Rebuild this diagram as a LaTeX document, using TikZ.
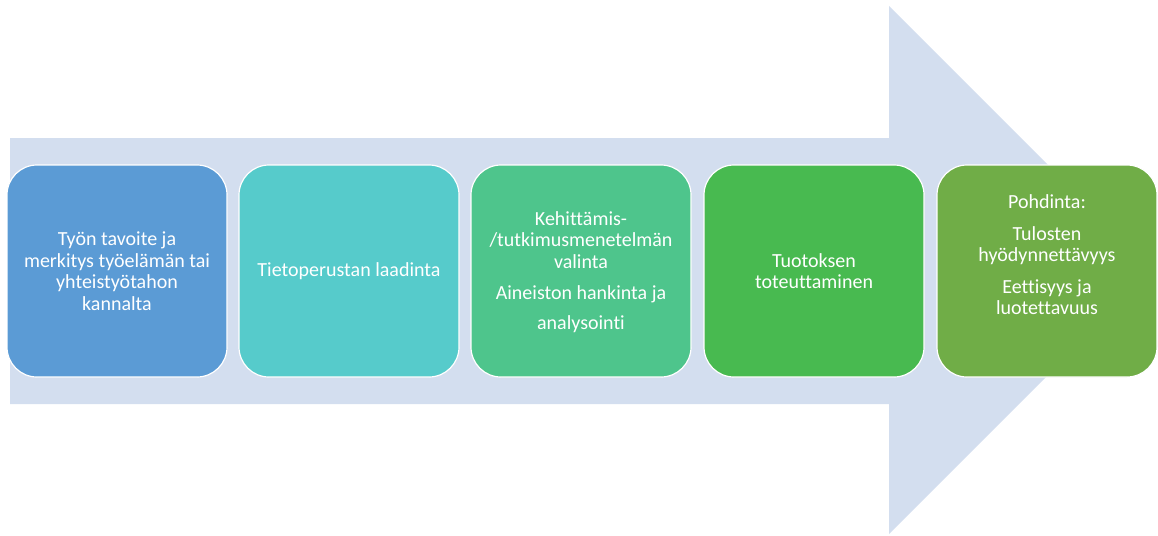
\documentclass[tikz,border=0pt]{standalone}
\usepackage{fontspec}
\setmainfont{Carlito}[Ligatures={NoCommon}]
\definecolor{arrowc}{HTML}{D3DEEF}
\definecolor{cA}{HTML}{5B9BD5}
\definecolor{cB}{HTML}{56CBCB}
\definecolor{cC}{HTML}{4EC58C}
\definecolor{cD}{HTML}{48BA50}
\definecolor{cE}{HTML}{70AD47}
\begin{document}
\begin{tikzpicture}[x=1pt,y=-1pt,
  stepbox/.style={draw=white, line width=1.2pt, rounded corners=30pt, minimum width=220pt, minimum height=212pt, inner sep=0pt},
  lbl/.style={text=white, align=center, font=\fontsize{20}{21.5}\selectfont, inner sep=0pt}]
\useasboundingbox (0,0) rectangle (1158,535);
\fill[arrowc] (10,138) -- (889,138) -- (889,6) -- (1153,270) -- (889,534) -- (889,404) -- (10,404) -- cycle;
\node[stepbox, fill=cA] (b1) at (117,271) {};
\node[stepbox, fill=cB] (b2) at (349,271) {};
\node[stepbox, fill=cC] (b3) at (581,271) {};
\node[stepbox, fill=cD] (b4) at (814,271) {};
\node[stepbox, fill=cE] (b5) at (1047,271) {};
\node[lbl] (t1) at (b1.center) {Työn tavoite ja\\merkitys työelämän tai\\yhteistyötahon\\kannalta};
\node[lbl] (t2) at (b2.center) {Tietoperustan laadinta};
\node[lbl] (t3) at ([yshift=-1pt]b3.center) {Kehittämis-\\/tutkimusmenetelmän\\valinta\\[10pt]Aineiston hankinta ja\\[8pt]analysointi};
\node[lbl] (t4) at (b4.center) {Tuotoksen\\toteuttaminen};
\node[lbl] (t5) at ([yshift=16pt]b5.center) {Pohdinta:\\[10pt]Tulosten\\hyödynnettävyys\\[10pt]Eettisyys ja\\luotettavuus};
\end{tikzpicture}
\end{document}
